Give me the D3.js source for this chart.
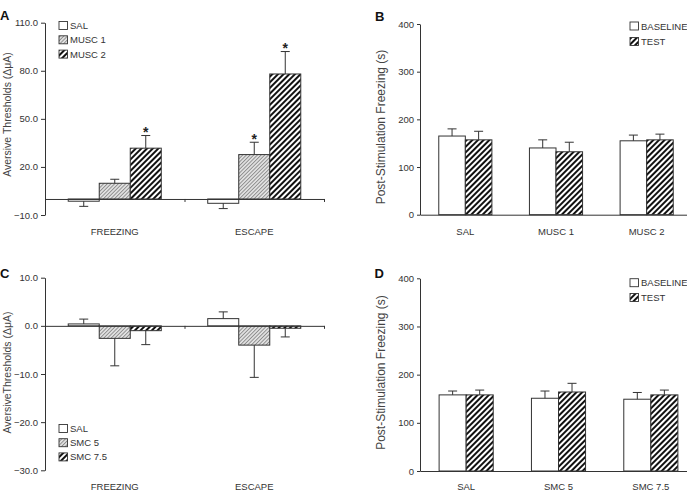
<!DOCTYPE html>
<html>
<head>
<meta charset="utf-8">
<script src="https://cdn.jsdelivr.net/npm/d3@7"></script>
<style>
  html, body { margin: 0; padding: 0; background: #fff; }
  svg { display: block; font-family: Arial, "Liberation Sans", sans-serif; }
</style>
</head>
<body>
<div id="chart"></div>
<script>
// Panel A / C: aversive thresholds
const thresholdGroups = ['FREEZING', 'ESCAPE'];
const muscSeries = ['SAL', 'MUSC 1', 'MUSC 2'];
const muscMeans = [[-1.4, 9.8, 31.7], [-2.7, 27.7, 78]];
const muscErrors = [[3.2, 2.5, 7.9], [3.3, 7.7, 14]];
const muscStars = [[false, false, true], [false, true, true]];
const muscTicks = [110, 80, 50, 20, -10];

const smcSeries = ['SAL', 'SMC 5', 'SMC 7.5'];
const smcMeans = [[0.4, -2.6, -1.0], [1.5, -4.0, -0.5]];
const smcErrors = [[1.0, 5.7, 2.9], [1.4, 6.7, 1.8]];
const smcTicks = [10, 0, -10, -20, -30];

// Panel B / D: post-stimulation freezing
const phaseSeries = ['BASELINE', 'TEST'];
const muscGroups = ['SAL', 'MUSC 1', 'MUSC 2'];
const muscFreezeMeans = [[165, 157], [140, 132], [155, 157]];
const muscFreezeErrors = [[15, 18], [17, 20], [12, 12]];
const smcGroups = ['SAL', 'SMC 5', 'SMC 7.5'];
const smcFreezeMeans = [[158, 158], [151, 164], [149, 158]];
const smcFreezeErrors = [[8, 10], [15, 18], [14, 10]];
const freezeTicks = [0, 100, 200, 300, 400];

const W = 687, H = 497;
const INK = '#333';

const svg = d3.select('#chart').append('svg')
  .attr('width', W)
  .attr('height', H);

// hatch patterns
const defs = svg.append('defs');
const light = defs.append('pattern')
  .attr('id', 'light')
  .attr('patternUnits', 'userSpaceOnUse')
  .attr('width', 2.6).attr('height', 2.6)
  .attr('patternTransform', 'rotate(45)');
light.append('rect').attr('width', 2.6).attr('height', 2.6).attr('fill', '#e2e2e2');
light.append('rect').attr('width', 0.9).attr('height', 2.6).attr('fill', '#8a8a8a');

const dark = defs.append('pattern')
  .attr('id', 'dark')
  .attr('patternUnits', 'userSpaceOnUse')
  .attr('width', 4).attr('height', 4)
  .attr('patternTransform', 'rotate(45)');
dark.append('rect').attr('width', 4).attr('height', 4).attr('fill', '#fff');
dark.append('rect').attr('width', 2).attr('height', 4).attr('fill', '#111');

function styleAxis(g) {
  g.selectAll('.domain, .tick line').attr('stroke', INK);
  g.selectAll('text')
    .attr('fill', INK)
    .attr('font-size', '9.5px')
    .attr('font-family', 'Arial, "Liberation Sans", sans-serif');
}

function letter(txt, x, y) {
  svg.append('text')
    .attr('x', x).attr('y', y)
    .attr('font-size', '13px')
    .attr('font-weight', 'bold')
    .attr('fill', '#111')
    .text(txt);
}

function yLabel(txt, x, y, size) {
  svg.append('text')
    .attr('transform', `translate(${x},${y}) rotate(-90)`)
    .attr('text-anchor', 'middle')
    .attr('font-size', size)
    .attr('fill', '#444')
    .text(txt);
}

function legend(items, fills, x, y0, step) {
  items.forEach((name, i) => {
    const cy = y0 + i * step;
    svg.append('rect')
      .attr('x', x).attr('y', cy - 4)
      .attr('width', 8.5).attr('height', 8)
      .attr('fill', fills[i])
      .attr('stroke', INK)
      .attr('stroke-width', 0.9);
    svg.append('text')
      .attr('x', x + 11).attr('y', cy + 3.5)
      .attr('font-size', '9.5px')
      .attr('fill', INK)
      .text(name);
  });
}

function errorBar(g, x, y1, y2) {
  g.append('line')
    .attr('x1', x).attr('x2', x)
    .attr('y1', y1).attr('y2', y2)
    .attr('stroke', INK).attr('stroke-width', 1);
  g.append('line')
    .attr('x1', x - 4.5).attr('x2', x + 4.5)
    .attr('y1', y2).attr('y2', y2)
    .attr('stroke', INK).attr('stroke-width', 1);
}

// ---- threshold panels (A, C)
function thresholdPanel(o) {
  const g = svg.append('g');
  const y = d3.scaleLinear().domain(o.yDomain).range(o.yRange);
  const x0 = d3.scaleBand().domain(thresholdGroups).range(o.xRange);
  const inset = x0.bandwidth() * 0.1665;
  const x1 = d3.scaleBand().domain(o.series).range([inset, x0.bandwidth() - inset]);

  // y axis
  g.append('g')
    .attr('transform', `translate(${o.xRange[0]},0)`)
    .call(d3.axisLeft(y).tickValues(o.ticks).tickSize(4).tickSizeOuter(0).tickPadding(3)
      .tickFormat(d3.format('.1f')))
    .call(styleAxis);

  // bars
  o.means.forEach((row, i) => {
    row.forEach((v, j) => {
      const bx = x0(thresholdGroups[i]) + x1(o.series[j]);
      g.append('rect')
        .attr('x', bx)
        .attr('y', y(Math.max(v, 0)))
        .attr('width', x1.bandwidth())
        .attr('height', Math.abs(y(v) - y(0)))
        .attr('fill', o.fills[j])
        .attr('stroke', INK)
        .attr('stroke-width', 1);
      const cx = bx + x1.bandwidth() / 2;
      const ey = y(v + Math.sign(v) * o.errors[i][j]);
      errorBar(g, cx, y(v), ey);
      if (o.stars && o.stars[i][j]) {
        g.append('text')
          .attr('x', cx).attr('y', ey + 1.5)
          .attr('text-anchor', 'middle')
          .attr('font-size', '14px')
          .attr('font-weight', 'bold')
          .attr('fill', '#222')
          .text('*');
      }
    });
  });

  // zero line with group ticks
  const xl = d3.scaleLinear().domain([0, thresholdGroups.length]).range(o.xRange);
  g.append('g')
    .attr('transform', `translate(0,${y(0)})`)
    .call(d3.axisBottom(xl).tickValues([1, 2]).tickSize(3).tickSizeOuter(0).tickFormat(''))
    .call(styleAxis);

  thresholdGroups.forEach(name => {
    g.append('text')
      .attr('x', x0(name) + x0.bandwidth() / 2)
      .attr('y', o.catY)
      .attr('text-anchor', 'middle')
      .attr('font-size', '9.5px')
      .attr('fill', INK)
      .text(name);
  });
}

// ---- freezing panels (B, D)
function freezePanel(o) {
  const g = svg.append('g');
  const y = d3.scaleLinear().domain([0, 400]).range(o.yRange);
  const x0 = d3.scaleBand().domain(o.groups).range(o.xRange);
  const inset = x0.bandwidth() * 0.207;
  const x1 = d3.scaleBand().domain(phaseSeries).range([inset, x0.bandwidth() - inset]);

  g.append('g')
    .attr('transform', `translate(${o.xRange[0]},0)`)
    .call(d3.axisLeft(y).tickValues(freezeTicks).tickSize(3).tickSizeOuter(0).tickPadding(3))
    .call(styleAxis);

  o.means.forEach((row, i) => {
    row.forEach((v, j) => {
      const bx = x0(o.groups[i]) + x1(phaseSeries[j]);
      g.append('rect')
        .attr('x', bx)
        .attr('y', y(v))
        .attr('width', x1.bandwidth())
        .attr('height', y(0) - y(v))
        .attr('fill', j === 0 ? '#fff' : 'url(#dark)')
        .attr('stroke', INK)
        .attr('stroke-width', 1);
      errorBar(g, bx + x1.bandwidth() / 2, y(v), y(v + o.errors[i][j]));
    });
  });

  g.append('g')
    .attr('transform', `translate(0,${y(0)})`)
    .call(d3.axisBottom(x0).tickSize(0).tickSizeOuter(0).tickFormat(''))
    .call(styleAxis);

  o.groups.forEach(name => {
    g.append('text')
      .attr('x', x0(name) + x0.bandwidth() / 2)
      .attr('y', o.catY)
      .attr('text-anchor', 'middle')
      .attr('font-size', '9.5px')
      .attr('fill', INK)
      .text(name);
  });
}

// A
thresholdPanel({
  yDomain: [-10, 110], yRange: [215, 22.7], xRange: [45, 324],
  ticks: muscTicks, series: muscSeries, means: muscMeans, errors: muscErrors,
  stars: muscStars, fills: ['#fff', 'url(#light)', 'url(#dark)'], catY: 234.5
});
letter('A', 0, 20);
yLabel('Aversive Thresholds (\u0394\u03BCA)', 10.5, 114.5, '10.5px');
legend(muscSeries, ['#fff', 'url(#light)', 'url(#dark)'], 59, 25.5, 14.3);

// B
freezePanel({
  yRange: [214.7, 24], xRange: [420, 692], groups: muscGroups,
  means: muscFreezeMeans, errors: muscFreezeErrors, catY: 235
});
letter('B', 375, 21);
yLabel('Post-Stimulation Freezing (s)', 385, 127, '12px');
legend(phaseSeries, ['#fff', 'url(#dark)'], 630, 26, 15.5);

// C
thresholdPanel({
  yDomain: [-30, 10], yRange: [470.3, 277.7], xRange: [45, 324],
  ticks: smcTicks, series: smcSeries, means: smcMeans, errors: smcErrors,
  stars: null, fills: ['#fff', 'url(#light)', 'url(#dark)'], catY: 490
});
letter('C', 0, 277.5);
yLabel('AversiveThresholds (\u0394\u03BCA)', 10.5, 372.5, '10.5px');
legend(smcSeries, ['#fff', 'url(#light)', 'url(#dark)'], 59, 428.5, 14.2);

// D
freezePanel({
  yRange: [471, 278.3], xRange: [420, 697], groups: smcGroups,
  means: smcFreezeMeans, errors: smcFreezeErrors, catY: 490
});
letter('D', 374.5, 277.5);
yLabel('Post-Stimulation Freezing (s)', 385, 372.5, '12px');
legend(phaseSeries, ['#fff', 'url(#dark)'], 630, 282.7, 14.8);
</script>
</body>
</html>
